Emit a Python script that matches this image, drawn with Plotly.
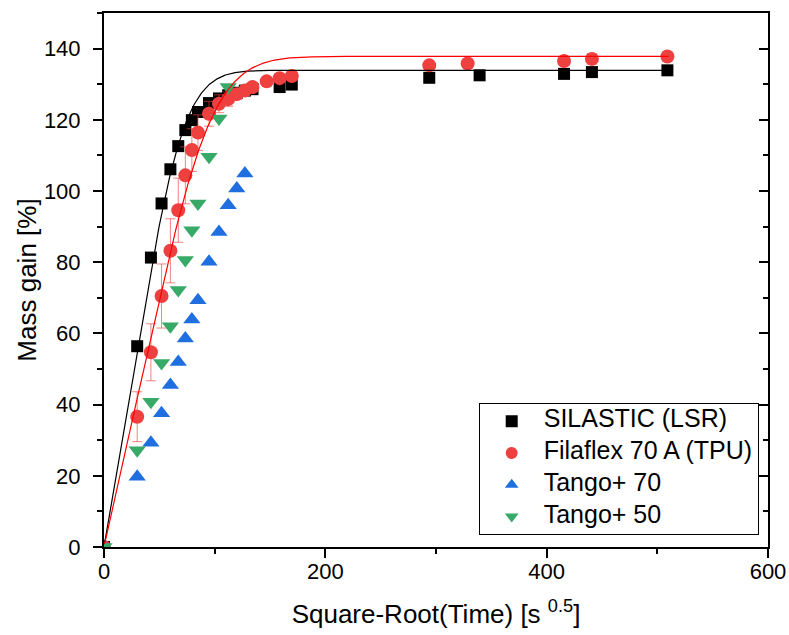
import numpy as np
import plotly.graph_objects as go

# ---- measured mass gain vs square-root of immersion time ----
silastic_x = [0, 30, 42.4, 52, 60, 67.1, 73.5, 79.4, 84.9, 94.9, 103.9, 112.2, 120, 127.3, 134.2,
              158.7, 169.7, 293.9, 339.4, 415.7, 440.9, 509.1]
silastic_y = [0, 56.4, 81.3, 96.5, 106.1, 112.6, 117.1, 119.9, 122.2, 124.7, 126.0, 126.9, 127.6, 128.2,
              128.6, 129.2, 129.9, 131.8, 132.5, 132.9, 133.4, 133.9]
silastic_err = [0, 0.5, 0.6, 0.7, 0.8, 0.9, 1.0, 1.0, 1.0, 1.2, 1.2, 1.3, 1.3, 1.3, 1.3, 1.2, 1.2,
                1.0, 1.0, 1.0, 1.2, 1.0]

filaflex_x = [0, 30, 42.4, 52, 60, 67.1, 73.5, 79.4, 84.9, 94.9, 103.9, 112.2, 120, 127.3, 134.2,
              147, 158.7, 169.7, 293.9, 328.6, 415.7, 440.9, 509.1]
filaflex_y = [0, 36.6, 54.7, 70.5, 83.2, 94.6, 104.4, 111.5, 116.4, 121.7, 124.5, 125.8, 127.2, 128.2,
              129.2, 130.8, 131.7, 132.3, 135.3, 135.8, 136.5, 137.1, 137.8]
filaflex_err = [0, 7, 8, 9, 9, 9, 8, 6, 5, 3.5, 2.5, 2, 1.5, 1.5, 1.2, 1, 1, 1, 1, 0.8, 1.2, 1.5, 1.2]

tango70_x = [0, 30, 42.4, 52, 60, 67.1, 73.5, 79.4, 84.9, 94.9, 103.9, 112.2, 120, 127.3]
tango70_y = [0, 19.7, 29.3, 37.6, 45.5, 52.0, 58.6, 63.9, 69.3, 80.1, 88.5, 96.0, 100.7, 104.9]

tango50_x = [0, 30, 42.4, 52, 60, 67.1, 73.5, 79.4, 84.9, 94.9, 103.9, 112.2]
tango50_y = [0, 27.2, 40.8, 51.7, 62.0, 72.2, 80.6, 89.0, 96.5, 109.6, 120.4, 129.2]

series_names = ["SILASTIC (LSR)", "Filaflex 70 A (TPU)", "Tango+ 70", "Tango+ 50"]

# ---- Fickian diffusion fit parameters (plateau %, rate constant D/h^2 in 1/s) ----
silastic_fit = (133.9, 3.7e-5)
filaflex_fit = (137.8, 2.0e-5)
fit_x_max = 510

BLACK = "#000000"
RED = "#EF4040"
BLUE = "#1F6FE0"
GREEN = "#38AA68"
FONT = "Arial, Liberation Sans, sans-serif"


def fick_curve(sqrt_t, plateau, k, terms=30):
    """Crank solution for a plane sheet, as a function of sqrt(time)."""
    u = k * np.asarray(sqrt_t) ** 2
    s = np.zeros_like(u)
    for n in range(terms):
        m = 2 * n + 1
        s += 8.0 / (m ** 2 * np.pi ** 2) * np.exp(-(m ** 2) * np.pi ** 2 * u)
    return plateau * (1 - s)


def legend_label(text):
    # larger glyphs than the legend's nominal font keep the rows compact
    return f'<span style="font-size:25px">{text}</span>'


fig = go.Figure()

fig.add_trace(go.Scatter(
    x=silastic_x, y=silastic_y, mode="markers", name=legend_label(series_names[0]),
    legendgroup="g1",
    marker=dict(symbol="square", size=12, color=BLACK),
    error_y=dict(type="data", array=silastic_err, color=BLACK, thickness=1, width=5),
))
fig.add_trace(go.Scatter(
    x=filaflex_x, y=filaflex_y, mode="markers", name=legend_label(series_names[1]),
    legendgroup="g2",
    marker=dict(symbol="circle", size=14, color=RED),
    error_y=dict(type="data", array=filaflex_err, color="rgba(239,64,64,0.65)", thickness=1, width=5),
))
fig.add_trace(go.Scatter(
    x=tango70_x, y=tango70_y, mode="markers", name=legend_label(series_names[2]),
    legendgroup="g3",
    marker=dict(symbol="triangle-up", size=15, color=BLUE),
))
fig.add_trace(go.Scatter(
    x=tango50_x, y=tango50_y, mode="markers", name=legend_label(series_names[3]),
    legendgroup="g4",
    marker=dict(symbol="triangle-down", size=15, color=GREEN),
))

fx = np.linspace(0, fit_x_max, 600)
fig.add_trace(go.Scatter(x=fx, y=fick_curve(fx, *silastic_fit), mode="lines",
                         line=dict(color=BLACK, width=1.2), showlegend=False, hoverinfo="skip"))
fig.add_trace(go.Scatter(x=fx, y=fick_curve(fx, *filaflex_fit), mode="lines",
                         line=dict(color="#FF0000", width=1.2), showlegend=False, hoverinfo="skip"))

# placeholder trace so the right-hand mirror axis is drawn
fig.add_trace(go.Scatter(x=[None], y=[None], yaxis="y2", showlegend=False, hoverinfo="skip"))

tickfont = dict(family=FONT, size=22, color="black")
titlefont = dict(family=FONT, size=26, color="black")

fig.update_layout(
    width=789, height=635,
    margin=dict(l=104, r=21, t=13, b=88),
    plot_bgcolor="white", paper_bgcolor="white",
    xaxis=dict(
        range=[0, 600], dtick=200, tick0=0, showgrid=False, zeroline=False, automargin=False,
        showline=True, linecolor="black", linewidth=2, mirror=True,
        ticks="outside", ticklen=9, tickwidth=1.5, tickcolor="black",
        minor=dict(dtick=100, ticks="outside", ticklen=5, tickwidth=1.5, tickcolor="black"),
        tickfont=tickfont, ticklabelstandoff=-5,
        title=dict(text="Square-Root(Time) [s <sup>0.5</sup>]", font=titlefont, standoff=21),
    ),
    yaxis=dict(
        range=[0, 150], dtick=20, tick0=0, showgrid=False, zeroline=False, automargin=False,
        showline=True, linecolor="black", linewidth=2,
        ticks="outside", ticklen=9, tickwidth=1.5, tickcolor="black",
        minor=dict(dtick=10, ticks="outside", ticklen=5, tickwidth=1.5, tickcolor="black"),
        tickfont=tickfont, ticklabelstandoff=8,
        title=dict(text="Mass gain [%]", font=titlefont, standoff=0),
    ),
    yaxis2=dict(
        overlaying="y", side="right", matches="y", range=[0, 150], dtick=20, tick0=0,
        showgrid=False, zeroline=False, showticklabels=False, automargin=False,
        showline=True, linecolor="black", linewidth=2,
        ticks="inside", ticklen=9, tickwidth=1.5, tickcolor="black",
        minor=dict(dtick=10, ticks="inside", ticklen=5, tickwidth=1.5, tickcolor="black"),
    ),
    legend=dict(
        x=0.986, y=0.022, xanchor="right", yanchor="bottom",
        bgcolor="white", bordercolor="black", borderwidth=1,
        font=dict(family=FONT, size=16, color="black"),
        itemwidth=54, itemsizing="constant",
        traceorder="grouped", tracegroupgap=8,
    ),
    showlegend=True,
)

fig.write_html("out.html")
